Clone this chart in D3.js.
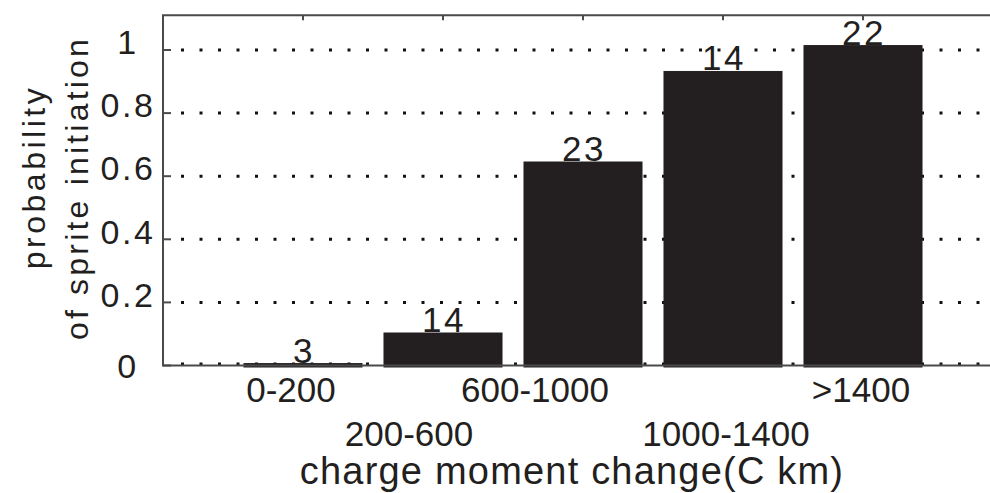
<!DOCTYPE html>
<html>
<head>
<meta charset="utf-8">
<script src="https://cdn.jsdelivr.net/npm/d3@7"></script>
<style>
  body { margin: 0; background: #fff; }
  svg { display: block; font-family: "Liberation Sans", Arial, sans-serif; }
  text { fill: #231f20; }
</style>
</head>
<body>
<script>
// values
const categories = ['0-200', '200-600', '600-1000', '1000-1400', '>1400'];
const probability = [0.006, 0.103, 0.645, 0.932, 1.014];
const counts = [3, 14, 23, 14, 22];
const yTicks = [0, 0.2, 0.4, 0.6, 0.8, 1];
const yTickLabels = ['0', '0.2', '0.4', '0.6', '0.8', '1'];

const width = 990;
const height = 493;
const ink = '#231f20';

const svg = d3.select('body')
  .append('svg')
  .attr('width', width)
  .attr('height', height);

// positions 1..5 on a 0..6 axis, right end runs off the page
const x = d3.scaleLinear()
  .domain([0, categories.length + 1])
  .range([163, 1003]);

const y = d3.scaleLinear()
  .domain([0, 1.11])
  .range([365.5, 15.3]);

const step = x(1) - x(0);
const barWidth = step * 0.843;

// dotted grid
svg.append('g')
  .attr('class', 'grid')
  .selectAll('line')
  .data(yTicks)
  .enter()
  .append('line')
  .attr('x1', x(0) + 18)
  .attr('x2', width)
  .attr('y1', d => y(d) - (d === 0 ? 1.5 : 0))
  .attr('y2', d => y(d) - (d === 0 ? 1.5 : 0))
  .style('stroke', '#111')
  .style('stroke-width', 3)
  .style('stroke-dasharray', '3 15.5');

// bars
svg.append('g')
  .attr('class', 'bars')
  .selectAll('rect')
  .data(probability)
  .enter()
  .append('rect')
  .attr('x', (d, i) => x(i + 1) - barWidth / 2)
  .attr('width', barWidth)
  .attr('y', d => y(d))
  .attr('height', d => y(0) - y(d) + 1.5)
  .style('fill', ink)
  .style('stroke', ink)
  .style('stroke-width', 1);

// frame: left, top and bottom only
const frame = svg.append('g')
  .style('stroke', '#4a4a4a')
  .style('stroke-width', 2)
  .style('fill', 'none');

frame.append('path')
  .attr('d', `M${width},${y.range()[1]}H${x(0)}V${y(0)}H${width}`);

// y ticks, pointing inwards
frame.selectAll('.ytick')
  .data(yTicks)
  .enter()
  .append('line')
  .attr('class', 'ytick')
  .attr('x1', x(0))
  .attr('x2', x(0) + 8)
  .attr('y1', d => y(d))
  .attr('y2', d => y(d));

// x ticks on top edge
frame.selectAll('.xtick')
  .data(categories)
  .enter()
  .append('line')
  .attr('class', 'xtick')
  .attr('x1', (d, i) => x(i + 1))
  .attr('x2', (d, i) => x(i + 1))
  .attr('y1', y.range()[1])
  .attr('y2', y.range()[1] + 5);

// y tick labels
svg.append('g')
  .selectAll('text')
  .data(yTicks)
  .enter()
  .append('text')
  .attr('x', 128)
  .attr('y', d => y(d) + (d === 0 ? 0 : -8))
  .attr('dy', '0.36em')
  .attr('text-anchor', 'middle')
  .style('font-size', '34px')
  .style('letter-spacing', '2.5px')
  .text((d, i) => yTickLabels[i]);

// category labels on two staggered rows
const labelNudge = [-12, -34, -48, 3, -2];
svg.append('g')
  .selectAll('text')
  .data(categories)
  .enter()
  .append('text')
  .attr('x', (d, i) => x(i + 1) + labelNudge[i])
  .attr('y', (d, i) => i % 2 === 0 ? 402 : 446)
  .attr('text-anchor', 'middle')
  .style('font-size', '35px')
  .text(d => d);

// counts above bars
svg.append('g')
  .selectAll('text')
  .data(counts)
  .enter()
  .append('text')
  .attr('x', (d, i) => x(i + 1) + 1)
  .attr('y', (d, i) => y(probability[i]) - 1)
  .attr('text-anchor', 'middle')
  .style('font-size', '35px')
  .style('letter-spacing', '2.5px')
  .text(d => d);

// axis titles
svg.append('text')
  .attr('x', 572)
  .attr('y', 484)
  .attr('text-anchor', 'middle')
  .style('font-size', '38px')
  .style('letter-spacing', '1.2px')
  .text('charge moment change(C km)');

svg.append('text')
  .attr('transform', 'translate(45,177) rotate(-90)')
  .attr('text-anchor', 'middle')
  .style('font-size', '32px')
  .style('letter-spacing', '3.5px')
  .text('probability');

svg.append('text')
  .attr('transform', 'translate(88,188) rotate(-90)')
  .attr('text-anchor', 'middle')
  .style('font-size', '32px')
  .style('letter-spacing', '3.2px')
  .text('of sprite initiation');
</script>
</body>
</html>
